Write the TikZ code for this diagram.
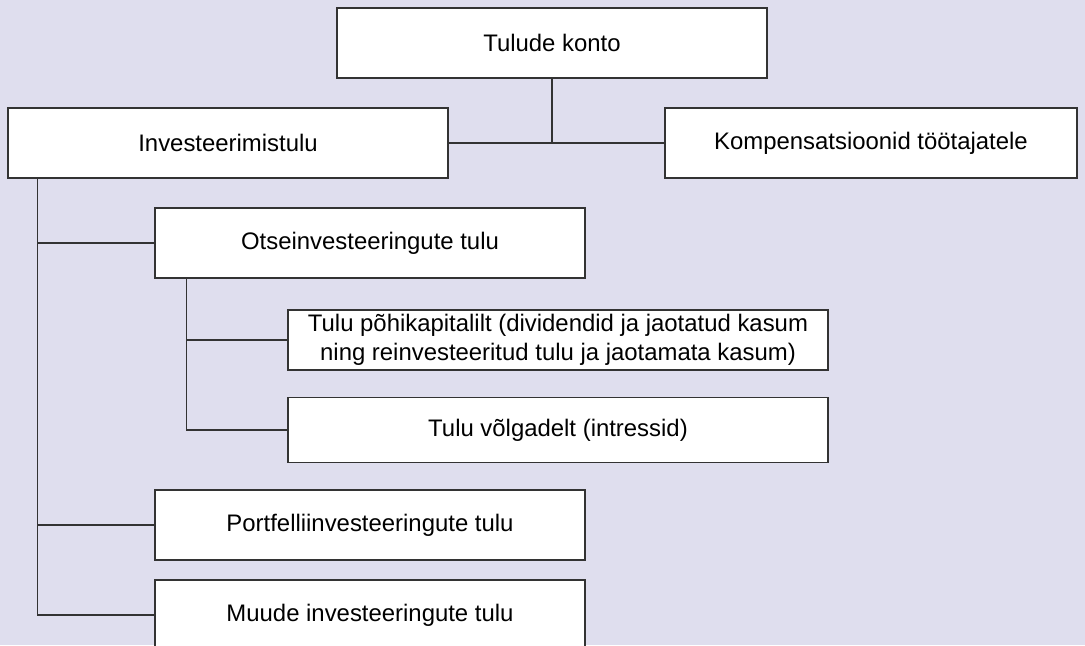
\documentclass[tikz,border=0pt]{standalone}
\usepackage{fontspec}
\setmainfont{Liberation Sans}
\definecolor{bgcol}{HTML}{DFDEEE}
\definecolor{linecol}{HTML}{333333}
\begin{document}
\begin{tikzpicture}[x=0.025cm, y=-0.025cm,
    box/.style={draw=linecol, line width=0.9pt, fill=white, inner sep=0pt,
        font=\fontsize{17}{21}\selectfont, align=center, minimum height=1.75cm},
    link/.style={draw=linecol, line width=0.9pt}]
    \useasboundingbox (0,0) rectangle (1085,645);
    \clip (0,0) rectangle (1085,645);
    \fill[bgcol] (0,0) rectangle (1085,645);

    % Top level
    \node[box, minimum width=10.75cm] (konto) at (552,43) {Tulude konto};
    \node[box, minimum width=11cm] (inv) at (228,143) {Investeerimistulu};
    \node[box, minimum width=10.3cm] (komp) at (871,143) {Kompensatsioonid töötajatele};
    \draw[link] (konto.south) -- (konto.south |- inv.east);
    \draw[link] (inv.east) -- (komp.west);

    % Investment income
    \node[box, minimum width=10.75cm] (otse) at (370,243) {Otseinvesteeringute tulu};
    \node[box, minimum width=10.75cm] (port) at (370,525) {Portfelliinvesteeringute tulu};
    \node[box, minimum width=10.75cm] (muude) at (370,615) {Muude investeeringute tulu};
    \coordinate (trunk) at ([xshift=0.75cm]inv.south west);
    \draw[link] (trunk) |- (otse.west);
    \draw[link] (trunk) |- (port.west);
    \draw[link] (trunk) |- (muude.west);

    % Direct investment income
    \node[box, minimum width=13.5cm, minimum height=1.5cm] (pohi) at (558,340)
        {Tulu põhikapitalilt (dividendid ja jaotatud kasum\\ning reinvesteeritud tulu ja jaotamata kasum)};
    \node[box, minimum width=13.5cm, minimum height=1.625cm] (volg) at (558,430) {Tulu võlgadelt (intressid)};
    \coordinate (sub) at ([xshift=0.8cm]otse.south west);
    \draw[link] (sub) |- (pohi.west);
    \draw[link] (sub) |- (volg.west);
\end{tikzpicture}
\end{document}
